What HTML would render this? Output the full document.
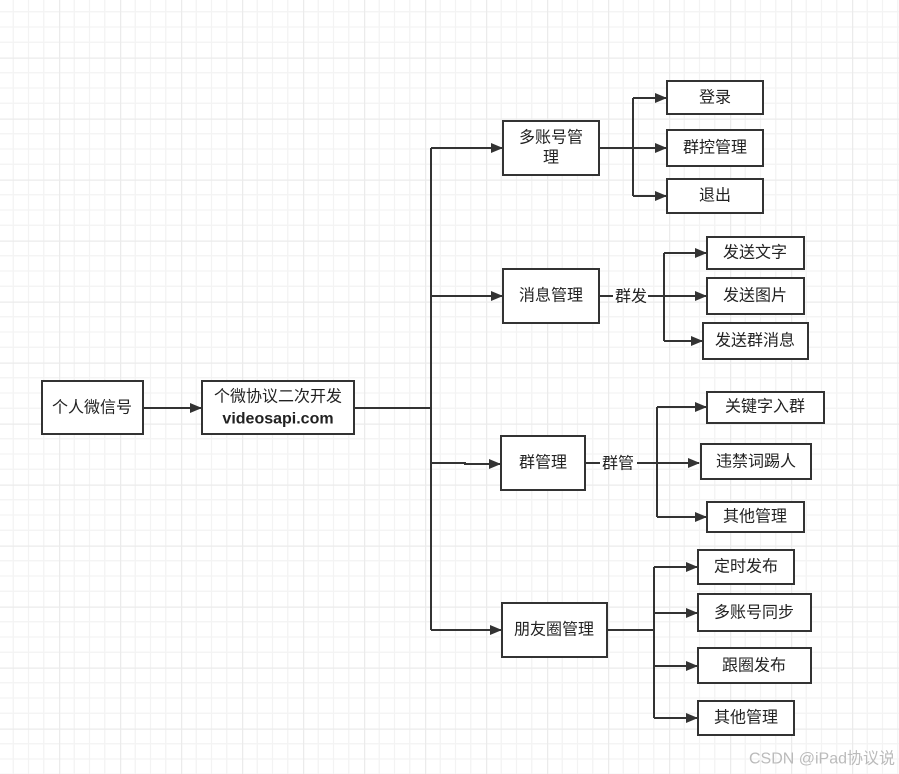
<!DOCTYPE html>
<html><head><meta charset="utf-8">
<style>
html,body{margin:0;padding:0;background:#fff;}
svg{display:block;}
text{font-family:"Liberation Sans","Noto Sans CJK SC",sans-serif;font-size:16px;fill:#222;text-anchor:middle;dominant-baseline:central;}
</style></head><body>
<svg width="899" height="774" viewBox="0 0 899 774" xmlns="http://www.w3.org/2000/svg">
<defs>
<pattern id="g" x="-2" y="-3.5" width="61" height="61" patternUnits="userSpaceOnUse">
<path d="M15.25 0V61M30.5 0V61M45.75 0V61M0 15.25H61M0 30.5H61M0 45.75H61" stroke="#f3f3f3" stroke-width="1.2"/>
<path d="M0.5 0V61M0 0.5H61" stroke="#ebebeb" stroke-width="1.5"/>
</pattern>
<marker id="a" markerWidth="12" markerHeight="10" refX="11" refY="5" orient="auto" markerUnits="userSpaceOnUse">
<path d="M0 0L12 5L0 10z" fill="#333"/>
</marker>
</defs>
<rect width="899" height="774" fill="url(#g)"/>
<g fill="none" stroke="#333" stroke-width="2">
<path d="M143 408H201" marker-end="url(#a)"/>
<path d="M354 408H431"/>
<path d="M431 148V630"/>
<path d="M431 148H502" marker-end="url(#a)"/>
<path d="M431 296H502" marker-end="url(#a)"/>
<path d="M431 463H465V464H500" marker-end="url(#a)"/>
<path d="M431 630H501" marker-end="url(#a)"/>
<path d="M599 148H666" marker-end="url(#a)"/>
<path d="M633 98V196"/>
<path d="M633 98H666" marker-end="url(#a)"/>
<path d="M633 196H666" marker-end="url(#a)"/>
<path d="M599 296H613M648 296H706" marker-end="url(#a)"/>
<path d="M664 253V341"/>
<path d="M664 253H706" marker-end="url(#a)"/>
<path d="M664 341H702" marker-end="url(#a)"/>
<path d="M585 463H600M637 463H699" marker-end="url(#a)"/>
<path d="M657 407V517"/>
<path d="M657 407H706" marker-end="url(#a)"/>
<path d="M657 517H706" marker-end="url(#a)"/>
<path d="M607 630H654"/>
<path d="M654 567V718"/>
<path d="M654 567H697" marker-end="url(#a)"/>
<path d="M654 613H697" marker-end="url(#a)"/>
<path d="M654 666H697" marker-end="url(#a)"/>
<path d="M654 718H697" marker-end="url(#a)"/>
</g>
<g fill="#fff" stroke="#333" stroke-width="2">
<rect x="42" y="381" width="101" height="53"/>
<rect x="202" y="381" width="152" height="53"/>
<rect x="503" y="121" width="96" height="54"/>
<rect x="667" y="81" width="96" height="33"/>
<rect x="667" y="130" width="96" height="36"/>
<rect x="667" y="179" width="96" height="34"/>
<rect x="503" y="269" width="96" height="54"/>
<rect x="707" y="237" width="97" height="32"/>
<rect x="707" y="278" width="97" height="36"/>
<rect x="703" y="323" width="105" height="36"/>
<rect x="501" y="436" width="84" height="54"/>
<rect x="707" y="392" width="117" height="31"/>
<rect x="701" y="444" width="110" height="35"/>
<rect x="707" y="502" width="97" height="30"/>
<rect x="502" y="603" width="105" height="54"/>
<rect x="698" y="550" width="96" height="34"/>
<rect x="698" y="594" width="113" height="37"/>
<rect x="698" y="648" width="113" height="35"/>
<rect x="698" y="701" width="96" height="34"/>
</g>
<text x="92" y="408">个人微信号</text>
<text x="278" y="397">个微协议二次开发</text>
<text x="278" y="419" style="font-weight:bold">videosapi.com</text>
<text x="551" y="138">多账号管</text>
<text x="551" y="158">理</text>
<text x="715" y="98">登录</text>
<text x="715" y="148">群控管理</text>
<text x="715" y="196">退出</text>
<text x="551" y="296">消息管理</text>
<text x="631" y="297">群发</text>
<text x="755" y="253">发送文字</text>
<text x="755" y="296">发送图片</text>
<text x="755" y="341">发送群消息</text>
<text x="543" y="463">群管理</text>
<text x="618" y="464">群管</text>
<text x="765" y="407">关键字入群</text>
<text x="756" y="462">违禁词踢人</text>
<text x="755" y="517">其他管理</text>
<text x="554" y="630">朋友圈管理</text>
<text x="746" y="567">定时发布</text>
<text x="754" y="613">多账号同步</text>
<text x="754" y="666">跟圈发布</text>
<text x="746" y="718">其他管理</text>
<text x="822" y="759" style="fill:#bbb;font-size:16px">CSDN @iPad协议说</text>
</svg>
</body></html>
